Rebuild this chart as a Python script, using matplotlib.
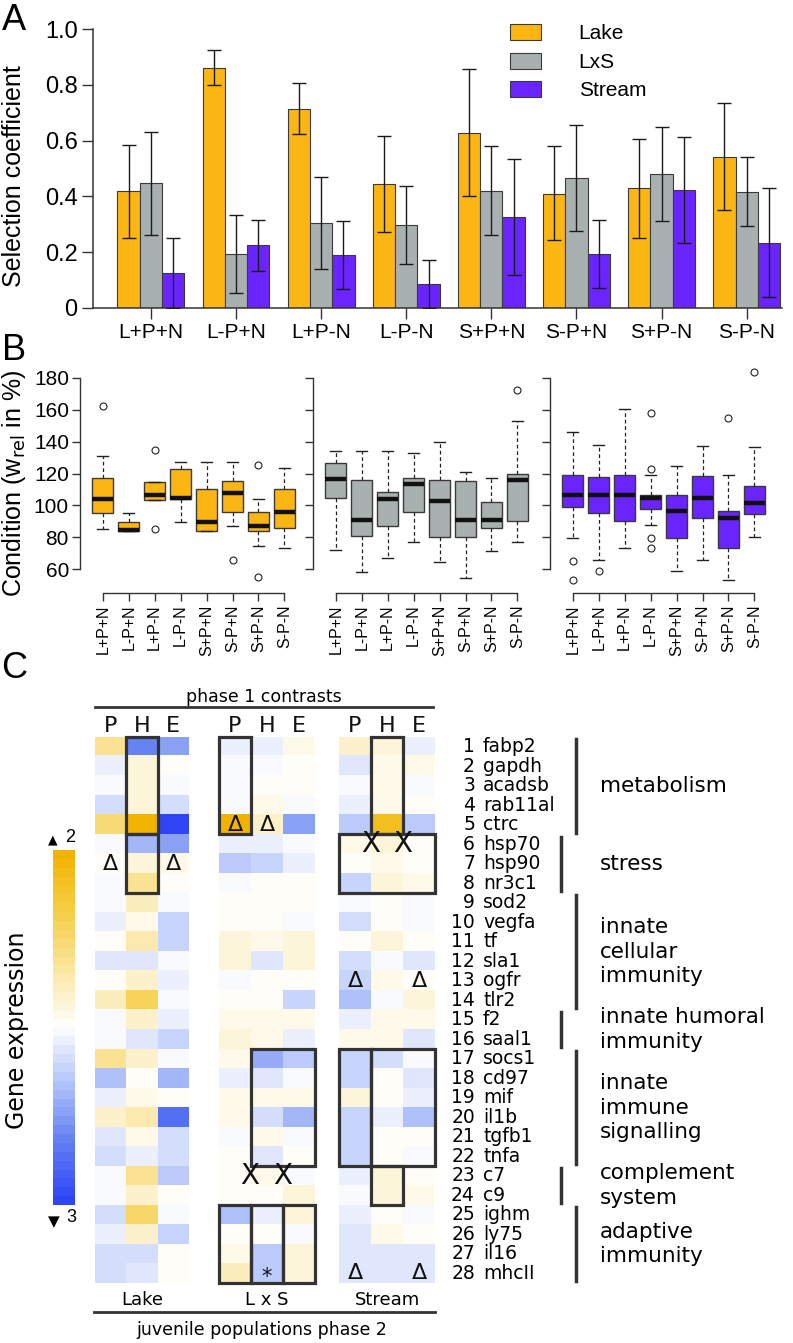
import matplotlib
matplotlib.use('Agg')
import matplotlib.pyplot as plt
import numpy as np
from matplotlib import font_manager
from matplotlib.colors import LinearSegmentedColormap, TwoSlopeNorm
from matplotlib.patches import Rectangle
import matplotlib.cm as cm

W, H = 793, 1343
_names = {f.name for f in font_manager.fontManager.ttflist}
NARROW = 'Liberation Sans Narrow' if 'Liberation Sans Narrow' in _names else 'Liberation Sans'
SANS = 'Liberation Sans'
WIDE = 'DejaVu Sans'
plt.rcParams['font.family'] = [SANS, 'DejaVu Sans']

# ---------------- Panel A data ----------------
treatments = ['L+P+N', 'L-P+N', 'L+P-N', 'L-P-N', 'S+P+N', 'S-P+N', 'S+P-N', 'S-P-N']
series_names = ['Lake', 'LxS', 'Stream']
lake_sel = [0.420, 0.861, 0.715, 0.445, 0.628, 0.410, 0.429, 0.542]
lake_lo = [0.250, 0.800, 0.622, 0.271, 0.400, 0.242, 0.250, 0.352]
lake_hi = [0.584, 0.923, 0.807, 0.617, 0.856, 0.579, 0.604, 0.733]
lxs_sel = [0.447, 0.194, 0.306, 0.297, 0.421, 0.466, 0.481, 0.417]
lxs_lo = [0.260, 0.053, 0.140, 0.158, 0.263, 0.275, 0.312, 0.294]
lxs_hi = [0.632, 0.334, 0.469, 0.436, 0.579, 0.655, 0.649, 0.540]
stream_sel = [0.126, 0.225, 0.190, 0.087, 0.326, 0.194, 0.423, 0.234]
stream_lo = [0.000, 0.131, 0.067, 0.000, 0.118, 0.072, 0.233, 0.039]
stream_hi = [0.250, 0.315, 0.312, 0.172, 0.533, 0.315, 0.612, 0.429]
yticksA = [0, 0.2, 0.4, 0.6, 0.8, 1.0]
yticklabelsA = ['0', '0.2', '0.4', '0.6', '0.8', '1.0']

# ---------------- Panel B data (box statistics, condition in %) ----------------
lake_box_lo = [84.9, 83.8, 103.1, 89.3, 84.2, 86.8, 74.2, 73.0]
lake_box_q1 = [94.9, 83.8, 103.1, 104.3, 84.2, 96.0, 84.2, 85.7]
lake_box_med = [103.7, 84.5, 106.8, 104.9, 89.5, 107.7, 87.0, 96.0]
lake_box_q3 = [117.3, 89.7, 114.8, 123.1, 110.0, 115.2, 96.0, 110.4]
lake_box_hi = [130.9, 95.1, 114.8, 127.3, 127.3, 127.3, 104.3, 123.5]
lake_box_out = [[162.2], [], [135.0, 84.9], [], [], [65.6], [125.6, 55.2], []]

lxs_box_lo = [72.1, 58.3, 67.1, 76.9, 64.3, 54.2, 71.5, 76.9]
lxs_box_q1 = [104.9, 80.7, 86.8, 95.9, 80.2, 80.2, 86.0, 90.1]
lxs_box_med = [116.4, 90.9, 103.7, 113.4, 102.5, 90.9, 90.9, 116.1]
lxs_box_q3 = [126.9, 116.2, 108.5, 116.9, 115.9, 115.1, 101.9, 119.4]
lxs_box_hi = [134.0, 134.0, 134.0, 132.6, 139.6, 121.0, 117.3, 152.8]
lxs_box_out = [[], [], [], [], [], [], [], [172.4]]

stream_box_lo = [79.6, 65.4, 73.4, 87.8, 59.0, 65.4, 53.2, 80.2]
stream_box_q1 = [99.0, 95.3, 89.9, 97.7, 79.6, 91.8, 73.4, 94.4]
stream_box_med = [106.4, 106.4, 106.4, 104.7, 96.7, 104.4, 91.8, 101.2]
stream_box_q3 = [118.8, 117.7, 119.2, 106.4, 106.4, 118.4, 96.5, 112.4]
stream_box_hi = [146.0, 137.7, 160.6, 118.8, 124.9, 137.3, 119.0, 136.5]
stream_box_out = [[64.8, 53.2], [59.0], [], [157.7, 123.1, 79.6, 73.2], [], [], [154.8], [183.7]]
yticksB = [60, 80, 100, 120, 140, 160, 180]

# ---------------- Panel C data (gene expression, columns P, H, E) ----------------
genes = ['fabp2', 'gapdh', 'acadsb', 'rab11al', 'ctrc', 'hsp70', 'hsp90', 'nr3c1',
         'sod2', 'vegfa', 'tf', 'sla1', 'ogfr', 'tlr2', 'f2', 'saal1', 'socs1', 'cd97',
         'mif', 'il1b', 'tgfb1', 'tnfa', 'c7', 'c9', 'ighm', 'ly75', 'il16', 'mhcII']
contrasts = ['P', 'H', 'E']
populations = ['Lake', 'L x S', 'Stream']
lake_expr = [
    [0.7, -1.9, -1.4], [-0.3, 0.2, 0.0], [-0.15, 0.2, -0.05], [-0.5, 0.2, -0.5],
    [0.9, 1.9, -3.0], [-0.15, -1.1, -1.4], [0.0, 0.25, 0.1], [-0.1, 0.75, 0.0],
    [-0.1, 0.4, -0.15], [-0.3, 0.15, -0.6], [0.0, 0.5, -0.7], [-0.4, -0.4, -0.1],
    [0.0, 0.3, -0.25], [0.45, 1.1, -0.1], [-0.1, 0.3, -0.3], [-0.15, -0.4, -0.7],
    [0.7, 0.35, -0.1], [-1.0, 0.0, -1.1], [-0.2, 0.1, 0.0], [0.3, 0.55, -2.1],
    [-0.4, 0.1, -0.55], [-0.5, -0.2, -0.5], [-0.05, 0.7, -0.85], [-0.1, 0.35, 0.0],
    [-0.5, 1.0, -0.1], [-0.3, 0.3, -0.6], [-0.45, -0.45, 0.05], [-0.45, -0.4, 0.05]]
lxs_expr = [
    [-0.3, -0.25, 0.15], [-0.1, -0.05, 0.0], [-0.1, 0.0, 0.0], [-0.1, 0.1, -0.1],
    [1.9, 0.3, -1.5], [-0.3, -0.3, -0.15], [-0.9, -0.6, -0.3], [-0.15, 0.0, 0.0],
    [0.08, 0.0, 0.0], [0.0, 0.0, -0.15], [0.25, 0.1, 0.25], [0.2, -0.4, 0.2],
    [-0.15, 0.0, 0.0], [0.0, 0.0, -0.6], [0.1, 0.1, 0.15], [0.25, 0.15, -0.2],
    [0.1, -1.3, -0.9], [-0.25, -0.35, -0.15], [0.15, 0.1, 0.15], [0.15, -0.55, -1.1],
    [-0.05, 0.1, -0.05], [0.0, -0.4, 0.0], [0.0, 0.1, -0.15], [0.05, 0.05, 0.2],
    [-1.0, -0.2, 0.2], [0.0, 0.0, -0.1], [0.15, -0.85, 0.2], [0.45, -0.85, 0.2]]
stream_expr = [
    [0.3, 0.25, -0.3], [-0.4, 0.1, 0.1], [-0.15, 0.1, -0.15], [-0.3, 0.15, 0.0],
    [-0.9, 1.6, -0.8], [0.15, 0.2, 0.05], [0.0, 0.1, 0.05], [-0.7, 0.25, 0.15],
    [-0.15, 0.05, -0.15], [-0.5, 0.0, -0.15], [0.0, 0.25, 0.0], [-0.5, -0.1, -0.35],
    [-0.7, 0.1, 0.0], [-1.0, -0.15, 0.2], [-0.3, 0.15, 0.15], [0.1, 0.1, -0.35],
    [-0.6, -0.45, -0.1], [-0.6, 0.0, -0.4], [0.2, 0.0, -0.3], [-0.75, -0.25, -1.0],
    [-0.75, 0.08, 0.0], [-0.75, 0.0, -0.1], [-0.2, 0.2, 0.0], [-0.15, 0.2, 0.1],
    [-0.3, 0.0, -0.1], [-0.35, 0.1, 0.0], [-0.4, -0.4, -0.4], [-0.4, -0.4, -0.35]]
# significance boxes: (first column, first gene, n columns, n genes), 0-based
lake_boxes = [(1, 0, 1, 5), (1, 5, 1, 3)]
lxs_boxes = [(0, 0, 1, 5), (1, 16, 2, 6), (0, 24, 1, 4), (1, 24, 1, 4), (2, 24, 1, 4)]
stream_boxes = [(1, 0, 1, 5), (0, 5, 3, 3), (0, 16, 1, 6), (1, 16, 2, 6), (1, 22, 1, 2)]
# symbols: (x in column units, gene index, symbol)
lake_marks = [(0, 6, '\u0394'), (2, 6, '\u0394')]
lxs_marks = [(0, 4, '\u0394'), (1, 4, '\u0394'), (0.45, 22, 'X'), (1.5, 22, 'X'), (1, 27, '*')]
stream_marks = [(0.5, 5, 'X'), (1.5, 5, 'X'), (0, 12, '\u0394'), (2, 12, '\u0394'),
                (0, 27, '\u0394'), (2, 27, '\u0394')]
gene_groups = [(0, 4, ['metabolism'], 'long'), (5, 7, ['stress'], 'short'),
               (8, 13, ['innate', 'cellular', 'immunity'], 'long'),
               (14, 15, ['innate humoral', 'immunity'], 'short'),
               (16, 21, ['innate', 'immune', 'signalling'], 'long'),
               (22, 23, ['complement', 'system'], 'short'),
               (24, 27, ['adaptive', 'immunity'], 'long')]

# ---------------- figure ----------------
fig = plt.figure(figsize=(W / 100, H / 100), dpi=100)


def add_ax(x0, y0, x1, y1):
    return fig.add_axes([x0 / W, 1 - y1 / H, (x1 - x0) / W, (y1 - y0) / H])


def ftext(x, y, s, **kw):
    return fig.text(x / W, 1 - y / H, s, **kw)


col_lake, col_lxs, col_stream = '#FCB614', '#A9B1B0', '#6A25FF'

# ---------------- Panel A ----------------
axA = add_ax(93, 29, 782, 308)
xc = np.arange(len(treatments))
bw = 0.262
seriesA = [(lake_sel, lake_lo, lake_hi, col_lake), (lxs_sel, lxs_lo, lxs_hi, col_lxs),
           (stream_sel, stream_lo, stream_hi, col_stream)]
for k, (vals, lo, hi, col) in enumerate(seriesA):
    xs = xc + (k - 1) * bw
    vals, lo, hi = np.array(vals), np.array(lo), np.array(hi)
    axA.bar(xs, vals, width=bw, color=col, edgecolor='#3a3a3a', linewidth=0.8,
            label=series_names[k], zorder=2)
    axA.errorbar(xs, vals, yerr=[vals - lo, hi - vals], fmt='none', ecolor='#1a1a1a',
                 elinewidth=1.0, capsize=5, capthick=1.0, zorder=3)
axA.set_xlim(-0.68, 7.415)
axA.set_ylim(0, 1.0)
for s in ['top', 'right']:
    axA.spines[s].set_visible(False)
axA.spines['left'].set_bounds(0, 1)
for s in ['left', 'bottom']:
    axA.spines[s].set_color('#333333')
    axA.spines[s].set_linewidth(1.1)
axA.set_yticks(yticksA)
axA.set_yticklabels(yticklabelsA, fontfamily=NARROW, fontsize=17)
axA.set_xticks(xc)
axA.set_xticklabels(treatments, fontfamily=NARROW, fontsize=15)
axA.tick_params(axis='both', direction='out', length=8, width=1.0, color='#333333', pad=3)
ftext(14, 176, 'Selection coefficient', rotation=90, ha='center', va='center', fontsize=18)
leg = axA.legend(loc='upper left', bbox_to_anchor=(510 / W, 1 - 24 / H),
                 bbox_transform=fig.transFigure, frameon=False,
                 handlelength=1.5, handleheight=0.8, handletextpad=1.8, labelspacing=0.45,
                 borderpad=0, borderaxespad=0, prop={'family': NARROW, 'size': 15})
ftext(14, 21, 'A', ha='center', va='center', fontsize=26)

# ---------------- Panel B ----------------
groupsB = [
    (80, col_lake, lake_box_lo, lake_box_q1, lake_box_med, lake_box_q3, lake_box_hi, lake_box_out),
    (313, col_lxs, lxs_box_lo, lxs_box_q1, lxs_box_med, lxs_box_q3, lxs_box_hi, lxs_box_out),
    (550, col_stream, stream_box_lo, stream_box_q1, stream_box_med, stream_box_q3,
     stream_box_hi, stream_box_out)]
for gi, (x0, col, lo, q1, med, q3, hi, out) in enumerate(groupsB):
    ax = add_ax(x0, 362, x0 + 220, 585)
    stats = [dict(whislo=lo[i], q1=q1[i], med=med[i], q3=q3[i], whishi=hi[i],
                  fliers=out[i], label=treatments[i]) for i in range(len(treatments))]
    ax.bxp(stats, positions=np.arange(1, 9), widths=0.8, patch_artist=True,
           capwidths=0.42,
           boxprops=dict(facecolor=col, edgecolor='#3a3a3a', linewidth=1.0),
           medianprops=dict(color='#111111', linewidth=3.2, solid_capstyle='butt'),
           whiskerprops=dict(color='#222222', linewidth=0.9, linestyle=(0, (3, 2.2))),
           capprops=dict(color='#222222', linewidth=1.0),
           flierprops=dict(marker='o', markerfacecolor='none', markeredgecolor='#222222',
                           markersize=5, markeredgewidth=0.8))
    ax.set_xlim(0.12, 8.6)
    ax.set_ylim(50, 190)
    for s in ['top', 'right']:
        ax.spines[s].set_visible(False)
    ax.spines['left'].set_bounds(60, 180)
    ax.spines['bottom'].set_bounds(1, 8)
    ax.spines['bottom'].set_position(('outward', 6))
    for s in ['left', 'bottom']:
        ax.spines[s].set_color('#333333')
        ax.spines[s].set_linewidth(1.0)
    ax.set_yticks(yticksB)
    if gi == 0:
        ax.set_yticklabels([str(v) for v in yticksB], fontsize=15)
    else:
        ax.set_yticklabels([])
    ax.set_xticks(np.arange(1, 9))
    ax.set_xticklabels(treatments, rotation=90, fontsize=11.5)
    ax.tick_params(axis='both', direction='out', length=6, width=1.0, color='#333333', pad=2)
    for a in ax.artists + ax.lines:
        a.set_clip_on(False)
ftext(14, 483, r'Condition (w$_{\rm rel}$ in %)', rotation=90, ha='center', va='center',
      fontsize=18)
ftext(14, 350, 'B', ha='center', va='center', fontsize=26)

# ---------------- Panel C ----------------
cmapC = LinearSegmentedColormap.from_list(
    'expr', ['#2F45F5', '#5F7EF3', '#AFC1FA', '#FFFFFF', '#FBE6A0', '#F6CE45', '#F2B300'], N=40)
normC = TwoSlopeNorm(vmin=-3, vcenter=0, vmax=2)
top, bot = 737, 1283
groupsC = [(95, 189, lake_expr, lake_boxes, lake_marks),
           (219, 315, lxs_expr, lxs_boxes, lxs_marks),
           (339, 435, stream_expr, stream_boxes, stream_marks)]
for x0, x1, data, boxes, marks in groupsC:
    ax = add_ax(x0, top, x1, bot)
    ax.imshow(np.array(data), cmap=cmapC, norm=normC, aspect='auto', interpolation='nearest')
    ax.set_xlim(-0.5, 2.5)
    ax.set_ylim(len(genes) - 0.5, -0.5)
    ax.axis('off')
    for (c0, r0, nc, nr) in boxes:
        ax.add_patch(Rectangle((c0 - 0.5, r0 - 0.5), nc, nr, fill=False, edgecolor='#333333',
                               linewidth=2.3, clip_on=False, zorder=5))
    for (cx, ry, sym) in marks:
        if sym == 'X':
            ax.text(cx, ry, sym, ha='center', va='center', fontsize=20, family=WIDE,
                    color='#111111', zorder=6)
        elif sym == '*':
            ax.text(cx, ry + 0.2, sym, ha='center', va='center', fontsize=15, family=WIDE,
                    color='#111111', zorder=6)
        else:
            ax.text(cx, ry, sym, ha='center', va='center', fontsize=16, family=WIDE,
                    color='#111111', zorder=6)
    for ci, c in enumerate(contrasts):
        ax.text(ci, -1.05, c, ha='center', va='center', fontsize=16, family=WIDE,
                color='#111111')

# headers and footers
ftext(264, 697, 'phase 1 contrasts', ha='center', va='center', fontsize=12.5, family=WIDE)
fig.add_artist(plt.Line2D([95 / W, 433 / W], [1 - 707 / H, 1 - 707 / H], color='#333333',
                          linewidth=2))
for (x0, x1, *_), pop in zip(groupsC, populations):
    ftext((x0 + x1) / 2, 1300, pop, ha='center', va='center', fontsize=13, family=WIDE)
fig.add_artist(plt.Line2D([94 / W, 435 / W], [1 - 1312 / H, 1 - 1312 / H], color='#333333',
                          linewidth=2))
ftext(262, 1330, 'juvenile populations phase 2', ha='center', va='center', fontsize=12.5,
      family=WIDE)

# gene labels
rowh = (bot - top) / len(genes)
for i, g in enumerate(genes):
    yy = top + (i + 0.5) * rowh
    ftext(475, yy, str(i + 1), ha='right', va='center', fontsize=13.5, family=WIDE)
    ftext(483, yy, g, ha='left', va='center', fontsize=13.5, family=WIDE)
for (g0, g1, lines, kind) in gene_groups:
    xb = 576 if kind == 'long' else 561
    y0 = top + g0 * rowh + 2
    y1 = top + (g1 + 1) * rowh - 2
    fig.add_artist(plt.Line2D([xb / W, xb / W], [1 - y0 / H, 1 - y1 / H], color='#333333',
                              linewidth=2.5))
    pitch = 24.5
    yc = (y0 + y1) / 2
    for li, line in enumerate(lines):
        yl = yc + (li - (len(lines) - 1) / 2) * pitch
        ftext(600, yl, line, ha='left', va='center', fontsize=15.5, family=WIDE)

# colour bar
cax = add_ax(53, 850, 75, 1205)
cb = fig.colorbar(cm.ScalarMappable(norm=normC, cmap=cmapC), cax=cax)
cb.outline.set_visible(False)
cb.set_ticks([])
ftext(53, 840, '\u25B2', ha='center', va='center', fontsize=9, family=WIDE)
ftext(70, 838, '2', ha='center', va='center', fontsize=13, family=NARROW)
ftext(54, 1222, '\u25BC', ha='center', va='center', fontsize=11, family=WIDE)
ftext(71, 1217, '3', ha='center', va='center', fontsize=13, family=NARROW)
ftext(17, 1030, 'Gene expression', rotation=90, ha='center', va='center', fontsize=17,
      family=WIDE)
ftext(14, 668, 'C', ha='center', va='center', fontsize=26)

fig.savefig('out.png', dpi=100)
